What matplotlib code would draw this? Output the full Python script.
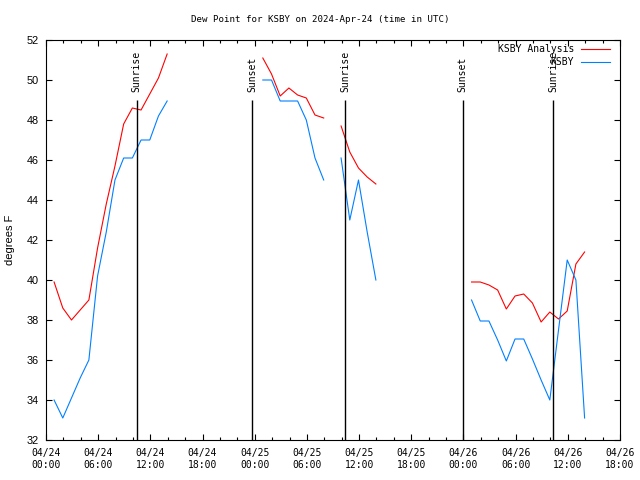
import numpy as np
import matplotlib
matplotlib.use("Agg")
import matplotlib.pyplot as plt

# hourly obs, hours after 04/24 00:00 UTC (obs at :56)
hours = np.arange(62) + 0.93
nan = np.nan

analysis = [39.9, 38.6, 38.0, 38.5, 39.0, 41.6, 43.8, 45.7, 47.8, 48.6,
            48.5, 49.3, 50.1, 51.3, nan, nan, nan, nan, nan, nan,
            nan, nan, nan, nan, 51.1, 50.3, 49.2, 49.6, 49.25, 49.1,
            48.25, 48.1, nan, 47.7, 46.4, 45.6, 45.15, 44.8, nan, nan,
            nan, nan, nan, nan, nan, nan, nan, nan, 39.9, 39.9,
            39.75, 39.5, 38.55, 39.2, 39.3, 38.85, 37.9, 38.4, 38.05, 38.45,
            40.8, 41.4]

ksby = [34.0, 33.1, 34.1, 35.1, 36.0, 40.2, 42.4, 45.0, 46.1, 46.1,
        47.0, 47.0, 48.2, 48.95, nan, nan, nan, nan, nan, nan,
        nan, nan, nan, nan, 50.0, 50.0, 48.95, 48.95, 48.95, 48.0,
        46.1, 45.0, nan, 46.1, 43.0, 45.0, 42.4, 40.0, nan, nan,
        nan, nan, nan, nan, nan, nan, nan, nan, 39.0, 37.95,
        37.95, 37.0, 35.95, 37.05, 37.05, 36.05, 35.0, 34.0, 37.5, 41.0,
        40.0, 33.1]

sun_times = [10.42, 23.72, 34.4, 47.9, 58.35]
sun_names = ["Sunrise", "Sunset", "Sunrise", "Sunset", "Sunrise"]

tick_hours = np.arange(0, 67, 6)
tick_labels = ["04/24\n00:00", "04/24\n06:00", "04/24\n12:00", "04/24\n18:00",
               "04/25\n00:00", "04/25\n06:00", "04/25\n12:00", "04/25\n18:00",
               "04/26\n00:00", "04/26\n06:00", "04/26\n12:00", "04/26\n18:00"]

mono = "DejaVu Sans Mono"
sans = "Liberation Sans"

fig = plt.figure(figsize=(6.4, 4.8), dpi=100)
ax = fig.add_axes([46 / 640, 40 / 480, 574 / 640, 400 / 480])

ax.plot(hours, analysis, color="#ff0000", lw=0.8)
ax.plot(hours, ksby, color="#0080ff", lw=0.8)

for t, name in zip(sun_times, sun_names):
    ax.vlines(t, 32, 49, color="black", lw=1)
    ax.text(t, 49.4, name, rotation=90, ha="center", va="bottom",
            family=mono, fontsize=7)

ax.set_xlim(0, 66)
ax.set_ylim(32, 52)
ax.set_xticks(tick_hours)
ax.set_xticklabels(tick_labels, family=mono, fontsize=7)
ax.set_xticks(np.arange(0, 67, 2), minor=True)
ax.set_yticks(np.arange(32, 53, 2))
ax.set_yticklabels([str(v) for v in range(32, 53, 2)], family=sans, fontsize=7.8)
ax.tick_params(which="both", direction="in", top=True, right=True, width=0.8)
ax.tick_params(which="major", length=4)
ax.tick_params(which="minor", length=2)
ax.tick_params(axis="x", pad=6)
ax.tick_params(axis="y", pad=5)
for s in ax.spines.values():
    s.set_linewidth(0.8)

ax.set_ylabel("degrees F", family=sans, fontsize=8, va="center")
ax.yaxis.set_label_coords(-0.062, 0.5)

fig.text(0.5, 1 - 20 / 480, "Dew Point for KSBY on 2024-Apr-24 (time in UTC)",
         ha="center", va="center", family=mono, fontsize=6.6)

# legend, gnuplot style (text right aligned, sample after it)
ax.text(0.920, 0.977, "KSBY Analysis", transform=ax.transAxes, ha="right",
        va="center", family=mono, fontsize=7)
ax.plot([0.932, 0.983], [0.977, 0.977], transform=ax.transAxes, color="#ff0000", lw=0.8)
ax.text(0.920, 0.944, "KSBY", transform=ax.transAxes, ha="right",
        va="center", family=mono, fontsize=7)
ax.plot([0.932, 0.983], [0.944, 0.944], transform=ax.transAxes, color="#0080ff", lw=0.8)

fig.savefig("out.png", dpi=100)
